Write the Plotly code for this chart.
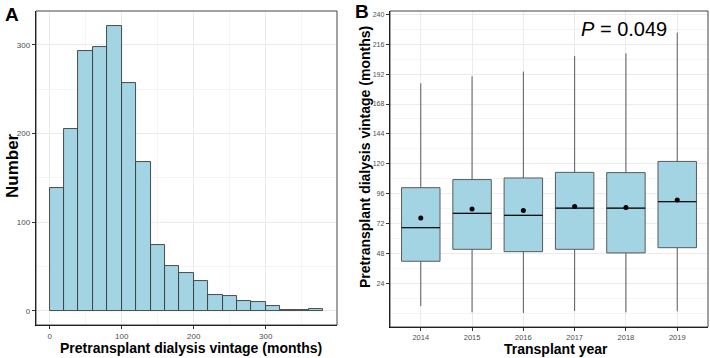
import plotly.graph_objects as go

# ---------------- Data ----------------
# Panel A: histogram of pretransplant dialysis vintage (binwidth 20 months)
bin_starts = [0, 20, 40, 60, 80, 100, 120, 140, 160, 180, 200, 220, 240, 260, 280, 300, 320, 340, 360]
bin_width = 20
counts = [138, 205, 293, 297, 321, 257, 168, 74, 51, 43, 34, 18, 17, 11, 10, 5, 1, 1, 2]

# Panel B: boxplot statistics by transplant year
years = ["2014", "2015", "2016", "2017", "2018", "2019"]
lower_whisker = [5.8, 0.7, 0.2, 1.8, 0.7, 1.5]
q1 = [41.7, 51.3, 49.4, 51.3, 48.4, 52.6]
median = [68.7, 80.2, 78.6, 84.3, 84.3, 89.6]
q3 = [100.8, 107.3, 108.6, 113.1, 112.9, 121.9]
upper_whisker = [184.6, 190.2, 194.0, 206.6, 208.7, 225.3]
mean = [76.5, 83.7, 82.4, 85.6, 84.8, 90.9]
p_text = "<i>P</i> = 0.049"

# ---------------- Style ----------------
FILL = "#a2d4e4"
FONT = "Arial, Liberation Sans, sans-serif"
TICK_COL = "#4d4d4d"
GRID = "#ebebeb"
MINOR_GRID = "#f4f4f4"
W, H = 710, 358
BOX_W = 0.75

fig = go.Figure()

# Histogram bars
bar_centers = [s + bin_width / 2 for s in bin_starts]
fig.add_trace(go.Bar(
    x=bar_centers, y=counts, width=bin_width,
    marker=dict(color=FILL, line=dict(color="#3a3a3a", width=0.9)),
    xaxis="x", yaxis="y", showlegend=False, hoverinfo="x+y",
))

# Boxplots
pos = list(range(len(years)))
fig.add_trace(go.Box(
    x=pos, q1=q1, median=median, q3=q3,
    lowerfence=lower_whisker, upperfence=upper_whisker,
    width=BOX_W, whiskerwidth=0, boxpoints=False,
    fillcolor=FILL, line=dict(color="#5a5a5a", width=1),
    xaxis="x2", yaxis="y2", showlegend=False,
))

# Median lines (black, drawn over the boxes)
med_x, med_y = [], []
for p, m in zip(pos, median):
    med_x += [p - BOX_W / 2, p + BOX_W / 2, None]
    med_y += [m, m, None]
fig.add_trace(go.Scatter(
    x=med_x, y=med_y, mode="lines", line=dict(color="#111111", width=1.3),
    xaxis="x2", yaxis="y2", showlegend=False, hoverinfo="skip",
))

# Mean points
fig.add_trace(go.Scatter(
    x=pos, y=mean, mode="markers",
    marker=dict(color="black", size=5, symbol="circle"),
    xaxis="x2", yaxis="y2", showlegend=False,
))

def px_x(v):
    return v / W

def px_y(v):
    return 1 - v / H

axis_common = dict(
    showline=True, linecolor="black", linewidth=1.4, mirror=False,
    ticks="outside", ticklen=3, tickcolor="#333333", tickwidth=0.8,
    showgrid=True, gridcolor=GRID, gridwidth=0.9, zeroline=False,
    tickfont=dict(family=FONT, size=8, color=TICK_COL),
    ticklabelstandoff=0,
)

def ann(text, x, y, size, angle=0):
    return dict(text=text, x=px_x(x), y=px_y(y), xref="paper", yref="paper",
                xanchor="center", yanchor="middle", textangle=angle,
                showarrow=False, font=dict(family=FONT, size=size, color="black"))

fig.update_layout(
    width=W, height=H,
    margin=dict(l=0, r=0, t=0, b=0),
    paper_bgcolor="white", plot_bgcolor="white",
    bargap=0,
    font=dict(family=FONT, color="black"),
    xaxis=dict(
        domain=[px_x(36), px_x(337)], anchor="y",
        range=[-19, 399], tickvals=[0, 100, 200, 300],
        minor=dict(dtick=50, tick0=0, showgrid=True, gridcolor=MINOR_GRID, gridwidth=0.6, ticks=""),
        **axis_common,
    ),
    yaxis=dict(
        domain=[px_y(325), px_y(11)], anchor="x",
        range=[-16.1, 338], tickvals=[0, 100, 200, 300],
        minor=dict(dtick=50, tick0=0, showgrid=True, gridcolor=MINOR_GRID, gridwidth=0.6, ticks=""),
        **axis_common,
    ),
    xaxis2=dict(
        domain=[px_x(390), px_x(708)], anchor="y2",
        range=[-0.6, 5.6], tickvals=pos, ticktext=years,
        **{**axis_common, "tickfont": dict(family=FONT, size=7.5, color=TICK_COL)},
    ),
    yaxis2=dict(
        domain=[px_y(327), px_y(11)], anchor="x2",
        range=[-11.1, 242.7], tickvals=[24, 48, 72, 96, 120, 144, 168, 192, 216, 240],
        minor=dict(dtick=12, tick0=0, showgrid=True, gridcolor=MINOR_GRID, gridwidth=0.6, ticks=""),
        **{**axis_common, "tickfont": dict(family=FONT, size=7, color=TICK_COL)},
    ),
    shapes=[
        dict(type="rect", xref="x domain", yref="y domain", x0=0, x1=1, y0=0, y1=1,
             line=dict(color="#444444", width=1), layer="above"),
        dict(type="rect", xref="x2 domain", yref="y2 domain", x0=0, x1=1, y0=0, y1=1,
             line=dict(color="#444444", width=1), layer="above"),
    ],
    annotations=[
        ann("<b>A</b>", 12, 14, 19),
        ann("<b>B</b>", 362, 12, 19),
        ann("<b>Number</b>", 12, 166, 17, -90),
        ann("<b>Pretransplant dialysis vintage (months)</b>", 191, 348, 14),
        ann("<b>Pretransplant dialysis vintage (months)</b>", 365, 157, 14, -90),
        ann("<b>Transplant year</b>", 556, 349, 14),
        ann(p_text, 624, 29, 20),
    ],
)

fig.write_html("out.html", post_script="document.body.style.margin='0';",
               config={"displayModeBar": False})
